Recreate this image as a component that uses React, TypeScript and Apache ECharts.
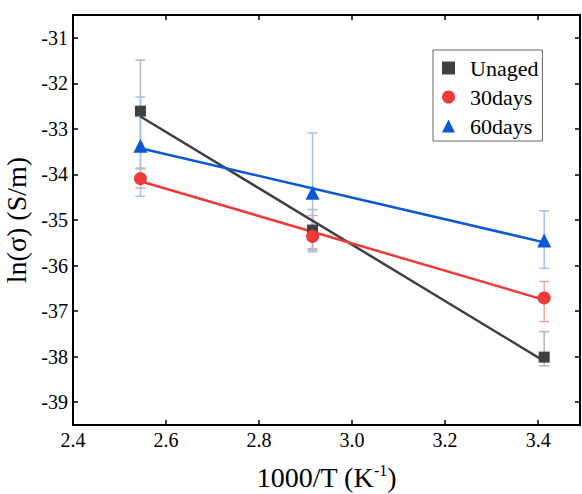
import React, { useEffect, useRef } from "react";
import * as echarts from "echarts";

const invT = [2.545, 2.915, 3.413];
const seriesNames = ["Unaged", "30days", "60days"];
const unaged = [-32.61, -35.22, -38.01];
const days30 = [-34.09, -35.36, -36.71];
const days60 = [-33.37, -34.4, -35.45];
const unagedLow = [-33.86, -35.66, -38.2];
const unagedHigh = [-31.49, -34.77, -37.45];
const days30Low = [-34.3, -35.63, -37.23];
const days30High = [-33.88, -34.9, -36.35];
const days60Low = [-34.48, -35.7, -36.06];
const days60High = [-32.3, -33.09, -34.8];
const xTicks = [2.4, 2.6, 2.8, 3.0, 3.2, 3.4];
const yTicks = [-39, -38, -37, -36, -35, -34, -33, -32, -31];

const colors = ["#404040", "#ee3a3a", "#0b58d2"];
const errColors = ["#b5b5b5", "#f4a6a6", "#a3c0ee"];
const symbols = ["rect", "circle", "triangle"];
const symbolSizes = [11, 13, 14];

function fit(xs: number[], ys: number[]) {
  const n = xs.length;
  const mx = xs.reduce((a, b) => a + b, 0) / n;
  const my = ys.reduce((a, b) => a + b, 0) / n;
  let sxy = 0, sxx = 0;
  for (let i = 0; i < n; i++) {
    sxy += (xs[i] - mx) * (ys[i] - my);
    sxx += (xs[i] - mx) * (xs[i] - mx);
  }
  const k = sxy / sxx;
  const b = my - k * mx;
  const x0 = Math.min(...xs), x1 = Math.max(...xs);
  return [[x0, k * x0 + b], [x1, k * x1 + b]];
}

const FONT = "Liberation Serif";

export default function App() {
  const ref = useRef<HTMLDivElement>(null);
  useEffect(() => {
    const chart = echarts.init(ref.current!, null, { renderer: "svg" });
    const vals = [unaged, days30, days60];
    const lows = [unagedLow, days30Low, days60Low];
    const highs = [unagedHigh, days30High, days60High];

    const errSeries = vals.map((v, i) => ({
      type: "custom",
      name: "err" + i,
      z: 1,
      data: invT.map((x, j) => [x, lows[i][j], highs[i][j]]),
      encode: { x: 0, y: [1, 2] },
      renderItem: (_p: any, api: any) => {
        const x = api.value(0);
        const pLo = api.coord([x, api.value(1)]);
        const pHi = api.coord([x, api.value(2)]);
        const hw = 5;
        const st = { stroke: errColors[i], lineWidth: 1.5 };
        return {
          type: "group",
          children: [
            { type: "line", shape: { x1: pLo[0], y1: pLo[1], x2: pHi[0], y2: pHi[1] }, style: st },
            { type: "line", shape: { x1: pLo[0] - hw, y1: pLo[1], x2: pLo[0] + hw, y2: pLo[1] }, style: st },
            { type: "line", shape: { x1: pHi[0] - hw, y1: pHi[1], x2: pHi[0] + hw, y2: pHi[1] }, style: st },
          ],
        };
      },
    }));

    const lineSeries = vals.map((v, i) => ({
      type: "line",
      name: "fit" + i,
      z: 2,
      data: fit(invT, v),
      symbol: "none",
      lineStyle: { color: colors[i], width: 2.5 },
      itemStyle: { color: colors[i] },
    }));

    const scatterSeries = vals.map((v, i) => ({
      type: "scatter",
      name: seriesNames[i],
      z: 3,
      data: invT.map((x, j) => [x, v[j]]),
      symbol: symbols[i],
      symbolSize: symbolSizes[i],
      itemStyle: { color: colors[i], opacity: 1 },
    }));

    const xFmt = (v: number) =>
      xTicks.some((t) => Math.abs(t - v) < 1e-6) ? "{t|" + v.toFixed(1) + "}" : "";
    const yFmt = (v: number) =>
      yTicks.some((t) => Math.abs(t - v) < 1e-6) ? "{t|" + String(v) + "}" : "";
    const tickRich = { t: { fontFamily: FONT, fontSize: 20, color: "#000", fontWeight: "normal" } };

    const axisLine = { show: true, onZero: false, lineStyle: { color: "#000", width: 2 } };
    const axisTick = { show: true, inside: true, length: 5, lineStyle: { color: "#000", width: 1.5 } };

    chart.setOption({
      animation: false,
      textStyle: { fontFamily: FONT, color: "#000" },
      grid: { left: 73, top: 15, right: 2, bottom: 69, containLabel: false, outerBoundsMode: "none" },
      legend: {
        data: seriesNames,
        orient: "vertical",
        left: 433,
        top: 50,
        padding: [7, 4, 4, 9],
        itemGap: 7,
        itemWidth: 13,
        itemHeight: 13,
        symbolKeepAspect: true,
        borderColor: "#666",
        borderWidth: 1,
        textStyle: { fontFamily: FONT, fontSize: 22, color: "#000", fontWeight: "normal", padding: [0, 0, 0, 10] },
      },
      xAxis: [
        {
          type: "value",
          position: "bottom",
          min: 2.4,
          max: 3.49,
          interval: 0.2,
          axisLine,
          axisTick,
          splitLine: { show: false },
          axisLabel: { formatter: xFmt, rich: tickRich, fontFamily: FONT, fontSize: 20, color: "#000", margin: 5 },
          name: "1000/T (K{sup|-1})",
          nameLocation: "middle",
          nameGap: 37,
          nameTextStyle: {
            fontFamily: FONT,
            fontSize: 28,
            color: "#000",
            rich: { sup: { fontFamily: FONT, fontSize: 16, color: "#000", verticalAlign: "top", padding: [0, 0, 14, 0] } },
          },
        },
        {
          type: "value",
          position: "top",
          min: 2.4,
          max: 3.49,
          interval: 0.2,
          axisLine,
          axisTick,
          splitLine: { show: false },
          axisLabel: { show: false },
        },
      ],
      yAxis: [
        {
          type: "value",
          position: "left",
          min: -39.5,
          max: -30.5,
          splitNumber: 9,
          minInterval: 1,
          maxInterval: 1,
          axisLine,
          axisTick,
          splitLine: { show: false },
          axisLabel: { formatter: yFmt, rich: tickRich, fontFamily: FONT, fontSize: 20, color: "#000", margin: 5 },
          name: "ln(σ) (S/m)",
          nameLocation: "middle",
          nameGap: 40,
          nameRotate: 90,
          nameTextStyle: { fontFamily: FONT, fontSize: 28, color: "#000" },
        },
        {
          type: "value",
          position: "right",
          min: -39.5,
          max: -30.5,
          splitNumber: 9,
          minInterval: 1,
          maxInterval: 1,
          axisLine,
          axisTick,
          splitLine: { show: false },
          axisLabel: { show: false },
        },
      ],
      series: [...errSeries, ...lineSeries, ...scatterSeries],
    });
    return () => chart.dispose();
  }, []);
  return <div ref={ref} style={{ width: 582, height: 494, position: "absolute", left: 0, top: 0, background: "#fff" }} />;
}
